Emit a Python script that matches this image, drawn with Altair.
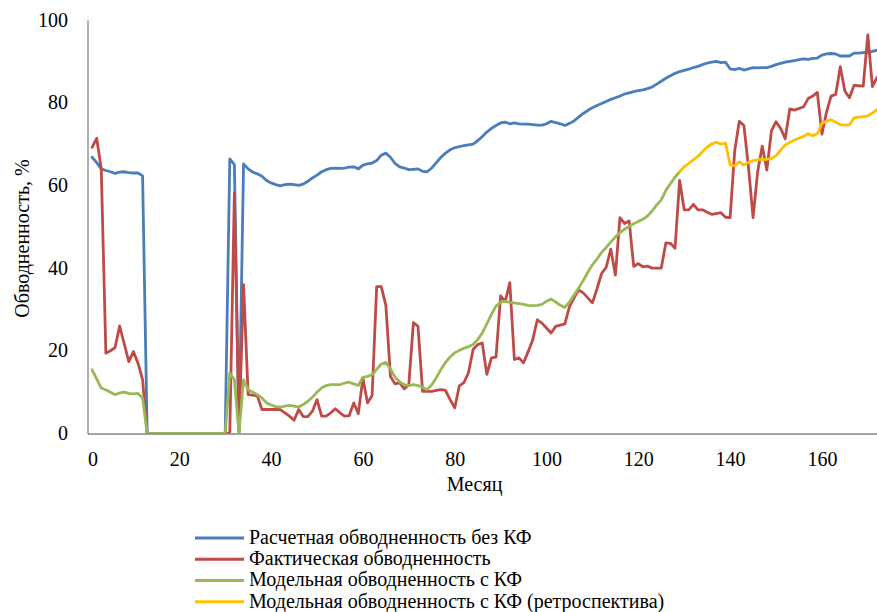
import altair as alt
import pandas as pd

# ---------------- data ----------------
months = list(range(1, 173))

blue = [
    66.8, 65.5, 64.0, 63.6, 63.3, 62.9, 63.2, 63.3, 63.1, 63.0,
    63.0, 62.3, 0, 0, 0, 0, 0, 0, 0, 0,
    0, 0, 0, 0, 0, 0, 0, 0, 0, 0,
    66.4, 65.0, 0, 65.2, 64.0, 63.2, 62.8, 62.2, 61.2, 60.6,
    60.2, 59.9, 60.2, 60.3, 60.2, 60.0, 60.3, 61.0, 61.8, 62.5,
    63.3, 63.8, 64.1, 64.2, 64.1, 64.2, 64.4, 64.5, 64.0, 64.9,
    65.2, 65.4, 66.0, 67.3, 67.8, 66.8, 65.3, 64.5, 64.2, 63.8,
    63.9, 64.0, 63.4, 63.3, 64.2, 65.5, 66.8, 67.8, 68.6, 69.1,
    69.4, 69.6, 69.8, 70.0, 70.8, 71.8, 72.9, 73.8, 74.5, 75.1,
    75.3, 74.9, 75.1, 74.9, 74.8, 74.8, 74.7, 74.6, 74.6, 74.9,
    75.5, 75.2, 74.9, 74.5, 75.0, 75.6, 76.5, 77.4, 78.1, 78.8,
    79.3, 79.8, 80.3, 80.8, 81.2, 81.6, 82.1, 82.4, 82.7, 82.9,
    83.1, 83.4, 83.8, 84.5, 85.2, 85.9, 86.5, 87.1, 87.5, 87.8,
    88.1, 88.5, 88.8, 89.2, 89.6, 89.8, 90.0, 89.7, 89.8, 88.2,
    88.0, 88.3, 87.9, 88.2, 88.5, 88.4, 88.5, 88.5, 88.8, 89.2,
    89.5, 89.8, 90.0, 90.2, 90.4, 90.6, 90.5, 90.7, 90.8, 91.5,
    91.8, 91.9, 91.8, 91.3, 91.3, 91.3, 92.0, 92.0, 92.1, 92.2,
    92.4, 92.7,
]

red = [
    69.2, 71.4, 64.0, 19.4, 20.0, 20.8, 26.0, 21.7, 17.4, 19.8,
    17.0, 13.0, 0, 0, 0, 0, 0, 0, 0, 0,
    0, 0, 0, 0, 0, 0, 0, 0, 0, 0,
    0, 58.2, 0.5, 36.0, 9.4, 9.3, 9.1, 5.8, 5.8, 5.8,
    5.8, 5.8, 5.0, 4.2, 3.2, 5.8, 4.1, 4.1, 5.4, 8.2,
    4.2, 4.2, 5.0, 6.0, 5.0, 4.2, 4.3, 7.4, 4.8, 13.4,
    7.4, 9.2, 35.5, 35.5, 31.0, 13.8, 12.0, 12.3, 10.8, 11.8,
    26.8, 25.9, 10.2, 10.2, 10.2, 10.4, 10.6, 10.4, 8.2, 6.2,
    11.5, 12.3, 14.7, 20.3, 21.5, 21.9, 14.3, 18.3, 18.5, 33.3,
    31.9, 36.5, 17.9, 18.3, 17.1, 19.8, 22.7, 27.5, 26.7, 25.5,
    24.3, 25.9, 26.2, 26.5, 30.7, 32.8, 34.7, 34.0, 32.8, 31.6,
    35.0, 38.7, 40.2, 44.6, 38.3, 52.2, 50.8, 51.4, 40.4, 41.1,
    40.3, 40.5, 40.0, 40.0, 40.0, 46.1, 46.0, 44.8, 61.2, 54.1,
    54.1, 55.4, 54.1, 54.1, 53.5, 53.0, 53.2, 53.4, 52.3, 52.2,
    68.4, 75.5, 74.5, 64.4, 52.2, 63.3, 69.5, 63.7, 73.2, 75.4,
    73.8, 71.3, 78.5, 78.2, 78.6, 79.0, 81.0, 81.6, 82.5, 72.4,
    77.7, 81.6, 82.0, 88.7, 82.8, 81.2, 84.2, 84.1, 84.0, 96.4,
    83.9, 86.1,
]

green_months = list(range(1, 130))
green = [
    15.4, 13.2, 11.0, 10.5, 10.0, 9.4, 9.8, 10.0, 9.7, 9.6,
    9.7, 8.6, 0, 0, 0, 0, 0, 0, 0, 0,
    0, 0, 0, 0, 0, 0, 0, 0, 0, 0,
    14.6, 13.0, 0, 13.0, 10.6, 10.0, 9.4, 8.6, 7.4, 6.9,
    6.5, 6.4, 6.6, 6.8, 6.6, 6.4, 7.0, 7.8, 8.8, 10.0,
    11.0, 11.6, 11.8, 11.8, 11.8, 12.2, 12.4, 12.0, 11.6, 13.6,
    13.8, 14.2, 15.5, 16.8, 17.2, 15.6, 13.6, 12.5, 11.8, 11.6,
    11.8, 11.6, 11.2, 10.6, 11.8, 13.5, 15.5, 17.2, 18.5, 19.5,
    20.1, 20.6, 21.0, 21.5, 22.7, 24.3, 26.5, 28.8, 30.8, 31.7,
    32.0, 31.7, 31.6, 31.4, 31.2, 31.0, 30.9, 31.0, 31.2, 32.0,
    32.5, 31.8, 31.0, 30.5, 31.8, 33.5, 35.2, 37.0, 39.0, 40.8,
    42.2, 43.8, 45.0, 46.3, 47.5, 48.6, 49.4, 50.1, 50.7, 51.3,
    51.8, 52.6, 53.8, 55.3, 56.5, 58.8, 60.4, 62.0, 63.3,
]

yellow_months = list(range(129, 173))
yellow = [
    63.3, 64.5, 65.3, 66.2, 67.0, 68.2, 69.3, 70.0, 70.4, 70.0,
    70.2, 65.0, 64.7, 65.7, 64.9, 65.6, 66.0, 66.2, 66.3, 66.3,
    66.5, 67.2, 68.5, 69.8, 70.4, 70.9, 71.4, 71.9, 72.5, 72.0,
    72.5, 75.0, 75.5, 75.9, 75.3, 74.7, 74.6, 74.7, 76.3, 76.5,
    76.6, 76.8, 77.5, 78.3,
]

names = [
    "Расчетная обводненность без КФ",
    "Фактическая обводненность",
    "Модельная обводненность с КФ",
    "Модельная обводненность с КФ (ретроспектива)",
]
colors = ["#4A7EBB", "#BE4B48", "#98B954", "#FFC000"]

x_ticks = [0, 20, 40, 60, 80, 100, 120, 140, 160]
y_ticks = [0, 20, 40, 60, 80, 100]

assert len(blue) == len(months) and len(red) == len(months)
assert len(green) == len(green_months) and len(yellow) == len(yellow_months)

FONT = "Liberation Serif"
FS = 20
W, H = 789.5, 413.5

x_enc = alt.X(
    "month:Q",
    scale=alt.Scale(domain=[0, 172], nice=False, zero=False),
    axis=alt.Axis(
        values=x_ticks, title="Месяц", ticks=False, grid=False,
        labelPadding=31.5, labelBaseline="alphabetic",
        titleX=386.5, titleY=56.5, titleBaseline="alphabetic", titleAlign="center",
    ),
)
y_enc = alt.Y(
    "value:Q",
    scale=alt.Scale(domain=[0, 100], nice=False),
    axis=alt.Axis(
        values=y_ticks, title="Обводненность, %", ticks=False, grid=False,
        labelPadding=20,
        titleX=-59.5, titleY=218, titleBaseline="alphabetic", titleAlign="center",
        titleAngle=270,
    ),
)

series = [
    (months, blue),
    (months, red),
    (green_months, green),
    (yellow_months, yellow),
]

line_layers = []
for (mx, vals), name, col in zip(series, names, colors):
    df = pd.DataFrame({"month": mx, "value": vals, "series": name})
    line_layers.append(
        alt.Chart(df)
        .mark_line(strokeWidth=2.8, strokeJoin="round", strokeCap="round", clip=True)
        .encode(x=x_enc, y=y_enc, color=alt.value(col))
    )
lines = alt.layer(*line_layers)

leg_df = pd.DataFrame({"name": names, "idx": list(range(len(names)))})
leg_y = alt.Y("idx:Q", scale=alt.Scale(domain=[0, 3], range=[518, 581.7]), axis=None)
leg_color = alt.Color("name:N", scale=alt.Scale(domain=names, range=colors), legend=None)

leg_lines = alt.Chart(leg_df).mark_rule(strokeWidth=3).encode(
    x=alt.value(107.5), x2=alt.value(156.5), y=leg_y, color=leg_color
)
leg_text = alt.Chart(leg_df).mark_text(
    align="left", baseline="middle", font=FONT, fontSize=FS, color="black"
).encode(x=alt.value(161.5), y=leg_y, text="name:N")
legend = alt.layer(leg_lines, leg_text)

chart = (
    alt.layer(lines, legend)
    .resolve_scale(y="independent", color="independent")
    .properties(
        width=W, height=H,
        autosize=alt.AutoSizeParams(type="none"),
        padding={"left": 87.5, "top": 20, "right": 0, "bottom": 178.5},
        background="white",
    )
    .configure_view(stroke=None)
    .configure_axis(
        domainColor="#868686", domainWidth=1.3,
        labelFont=FONT, labelFontSize=FS, labelColor="black",
        titleFont=FONT, titleFontSize=FS, titleFontWeight="normal", titleColor="black",
    )
)

chart.save("out.html", embed_options={"renderer": "svg", "actions": False})
